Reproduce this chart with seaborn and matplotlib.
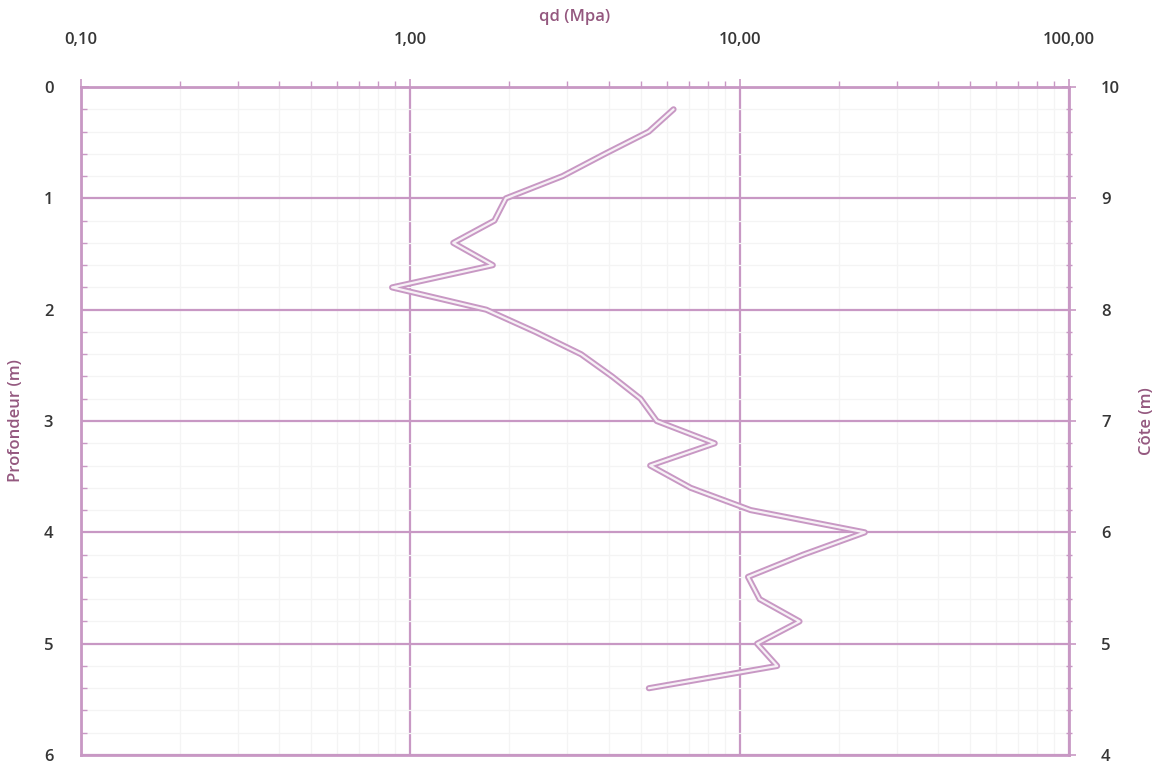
import numpy as np
import pandas as pd
import matplotlib
matplotlib.use("Agg")
import matplotlib.pyplot as plt
from matplotlib.ticker import FixedLocator, NullFormatter, LogLocator
import seaborn as sns

# Penetrometer profile: depth (m) and dynamic cone resistance qd (MPa)
depth = [0.2, 0.4, 0.6, 0.8, 1.0, 1.2, 1.4, 1.6, 1.8, 2.0, 2.2, 2.4, 2.6, 2.8,
         3.0, 3.2, 3.4, 3.6, 3.8, 4.0, 4.2, 4.4, 4.6, 4.8, 5.0, 5.2, 5.4]
qd = [6.3, 5.3, 3.9, 2.9, 1.95, 1.8, 1.35, 1.78, 0.88, 1.7, 2.4, 3.3, 4.1, 5.0,
      5.6, 8.4, 5.35, 7.1, 10.8, 24.0, 15.6, 10.6, 11.5, 15.2, 11.3, 13.0, 5.3]

x_ticks = [0.1, 1, 10, 100]
x_tick_labels = ["0,10", "1,00", "10,00", "100,00"]
depth_ticks = [0, 1, 2, 3, 4, 5, 6]
cote_ticks = [4, 5, 6, 7, 8, 9, 10]
ground_level = 10

purple = "#C898C4"
label_col = "#363636"
title_col = "#94587F"

sns.set_theme(style="white")
plt.rcParams["font.family"] = ["Open Sans", "DejaVu Sans"]

fig = plt.figure(figsize=(11.56, 7.68), dpi=100)
ax = fig.add_axes([0.0701, 0.0169, 0.8546, 0.8698])

df = pd.DataFrame({"qd": qd, "depth": depth})
# hollow-looking trace: wide purple stroke with a pale core
sns.lineplot(data=df, x="qd", y="depth", sort=False, estimator=None,
             color=purple, linewidth=4.4, ax=ax)
sns.lineplot(data=df, x="qd", y="depth", sort=False, estimator=None,
             color="#F7F1F6", linewidth=1.6, ax=ax)

ax.set_xscale("log")
ax.set_xlim(0.1, 100)
ax.set_ylim(6, 0)

ax.xaxis.set_ticks_position("top")
ax.xaxis.set_label_position("top")
ax.set_xticks(x_ticks)
ax.set_xticklabels(x_tick_labels)
ax.xaxis.set_minor_locator(LogLocator(base=10, subs=np.arange(2, 10)))
ax.xaxis.set_minor_formatter(NullFormatter())
ax.set_yticks(depth_ticks)
ax.set_yticklabels([str(t) for t in depth_ticks])
ax.yaxis.set_minor_locator(FixedLocator(np.arange(0, 6.01, 0.2)))

ax.grid(which="major", color=purple, linewidth=1.6)
ax.grid(which="minor", color="#F4F4F4", linewidth=0.9)
ax.set_axisbelow(True)

for s in ax.spines.values():
    s.set_color(purple)
    s.set_linewidth(2)

ax.tick_params(axis="x", which="both", top=True, bottom=False, direction="out",
               colors=purple, labelcolor=label_col, labelsize=12, pad=22)
ax.tick_params(axis="x", which="major", length=6, width=1.2)
ax.tick_params(axis="x", which="minor", length=4, width=1)
ax.tick_params(axis="y", which="both", left=True, direction="in",
               colors=purple, labelcolor=label_col, labelsize=12, pad=20)
ax.tick_params(axis="y", which="major", length=6, width=1.2)
ax.tick_params(axis="y", which="minor", length=4, width=1)
for lab in ax.get_xticklabels() + ax.get_yticklabels():
    lab.set_fontweight("semibold")

ax.set_xlabel("qd (Mpa)", color=title_col, fontsize=12, fontweight="semibold", labelpad=8)
ax.set_ylabel("Profondeur (m)", color=title_col, fontsize=12, fontweight="semibold", labelpad=14)

# right-hand axis: elevation derived from depth
ax2 = ax.twinx()
ax2.set_ylim(ground_level - 6, ground_level - 0)
ax2.set_yticks(cote_ticks)
ax2.set_yticklabels([str(t) for t in cote_ticks])
ax2.yaxis.set_minor_locator(FixedLocator(np.arange(4, 10.01, 0.2)))
ax2.grid(False)
for s in ax2.spines.values():
    s.set_visible(False)
ax2.tick_params(axis="y", which="both", right=True, direction="inout",
                colors=purple, labelcolor=label_col, labelsize=12, pad=18)
ax2.tick_params(axis="y", which="major", length=10, width=1.2)
ax2.tick_params(axis="y", which="minor", length=4, width=1)
for lab in ax2.get_yticklabels():
    lab.set_fontweight("semibold")
ax2.set_ylabel("Côte (m)", color=title_col, fontsize=12, fontweight="semibold", labelpad=14)

fig.savefig("out.png", dpi=100, facecolor="white")
